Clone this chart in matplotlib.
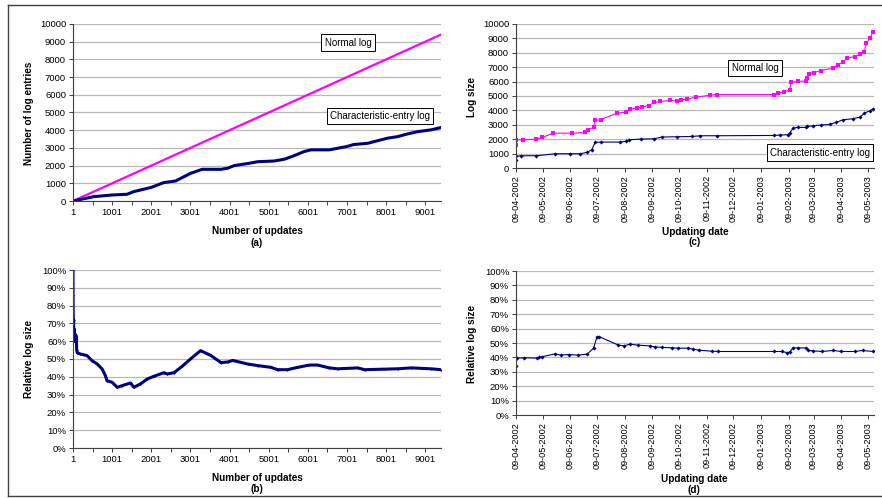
import datetime as dt
import matplotlib
matplotlib.use("Agg")
import matplotlib.pyplot as plt
import matplotlib.dates as mdates
from matplotlib.ticker import FixedLocator, FuncFormatter
from matplotlib.lines import Line2D

plt.rcParams['font.family'] = ['Liberation Sans', 'DejaVu Sans']

# (a) numero de entradas do log vs numero de updates
upd_a = [1, 530, 1001, 1380, 1555, 2001, 2320, 2620, 3001, 3300, 3780, 3950,
         4120, 4500, 4720, 5140, 5400, 5650, 5900, 6080, 6550, 7001, 7170,
         7530, 7790, 8040, 8300, 8510, 8810, 9150, 9400]
char_a = [0, 245, 340, 380, 530, 770, 1040, 1130, 1560, 1790, 1790, 1850,
          2000, 2130, 2220, 2260, 2360, 2560, 2790, 2890, 2890, 3080, 3190,
          3260, 3410, 3550, 3640, 3770, 3920, 4020, 4150]
normal_a_x = [1, 9400]
normal_a_y = [0, 9400]

# (b) tamanho relativo (%)
upd_b = [1, 3, 6, 10, 15, 20, 30, 40, 55, 70, 85, 95, 110, 190, 360, 490, 620,
         745, 830, 870, 1001, 1130, 1250, 1470, 1555, 1725, 1900, 2070, 2320,
         2410, 2580, 2790, 3001, 3260, 3520, 3780, 3950, 4080, 4460, 4720,
         5060, 5230, 5480, 5740, 6040, 6250, 6550, 6760, 7280, 7450, 7960,
         8300, 8640, 9150, 9400]
rel_b = [100, 86, 75, 60, 72, 63, 67, 60, 64, 61, 63, 55, 53.5, 52.8, 51.9, 49,
         47.2, 44.4, 40.6, 37.8, 36.9, 34.1, 35, 36.5, 34.1, 36, 38.8, 40.3,
         42.3, 41.6, 42.3, 45.9, 50, 54.7, 52, 48, 48.3, 49.2, 47.2, 46.3,
         45.3, 44, 44, 45.3, 46.6, 46.6, 45, 44.5, 45, 44, 44.3, 44.5, 45,
         44.5, 44]

# (c) tamanho do log por data (dias desde 09-04-2002)
start = dt.datetime(2002, 4, 9)
days_cn = [0, 0.3, 8, 23, 29, 42, 63, 78, 81, 87, 89, 95, 113, 123, 128, 136,
           141, 149, 155, 162, 173, 181, 185, 192, 202, 218, 226, 290, 294,
           301, 307, 309, 316, 326, 327, 329, 335, 342, 356, 361, 367, 371,
           380, 386, 391, 393, 397, 401]
normal_c = [1570, 1960, 1960, 2000, 2120, 2420, 2420, 2470, 2650, 2820, 3300,
            3350, 3810, 3880, 4110, 4160, 4230, 4340, 4550, 4620, 4690, 4670,
            4730, 4780, 4920, 5060, 5100, 5100, 5200, 5270, 5430, 5940, 6030,
            6030, 6280, 6560, 6630, 6770, 6930, 7160, 7340, 7620, 7740, 7900,
            8080, 8660, 9010, 9470]
days_cc = [0, 0.5, 6, 23, 44, 61, 72, 80, 85, 89, 95, 117, 123, 127, 140, 155,
           164, 181, 198, 207, 226, 290, 296, 305, 307, 311, 316, 326, 327,
           333, 342, 352, 359, 367, 378, 386, 391, 397, 401]
char_c = [580, 810, 850, 850, 990, 990, 990, 1090, 1270, 1780, 1800, 1800,
          1850, 1960, 2010, 2030, 2150, 2170, 2190, 2240, 2240, 2260, 2290,
          2310, 2420, 2770, 2820, 2820, 2890, 2930, 2980, 3030, 3160, 3350,
          3420, 3530, 3810, 3970, 4110]

# (d) tamanho relativo por data
days_d = [0, 1, 9, 24, 26, 29, 44, 50, 59, 70, 80, 87, 91, 93, 115, 121, 128,
          137, 150, 156, 164, 175, 182, 193, 199, 205, 220, 227, 290, 298,
          304, 307, 311, 317, 326, 328, 333, 343, 356, 365, 380, 389, 401]
rel_d = [34.2, 39.5, 39.7, 39.5, 40, 40.4, 42.5, 41.6, 42, 41.6, 42.3, 46.4,
         54.5, 54.5, 48.5, 48, 49.2, 48.5, 48, 47.3, 46.9, 46.7, 46.4, 46.4,
         45.7, 45, 44.3, 44.1, 44.1, 44.1, 43.4, 43.6, 46.6, 46.6, 46.6,
         44.8, 44.6, 44.1, 44.8, 44.1, 44.1, 44.8, 44.1]

months = [dt.datetime(2002 + (3 + i) // 12, (3 + i) % 12 + 1, 9) for i in range(14)]

NAVY = '#000080'
MAG = '#ff00ff'
GRID = '#b8b8b8'
AX = '#404040'
W, H = 882, 498

fig = plt.figure(figsize=(W / 100, H / 100), dpi=100)


def box(l, t, r, b):
    return [l / W, 1 - b / H, (r - l) / W, (b - t) / H]


def estilo(ax):
    for s in ['top', 'right']:
        ax.spines[s].set_visible(False)
    for s in ['left', 'bottom']:
        ax.spines[s].set_color(AX)
        ax.spines[s].set_linewidth(0.8)
    ax.yaxis.grid(True, color=GRID, linewidth=0.9)
    ax.set_axisbelow(True)
    ax.tick_params(axis='both', which='both', direction='out', length=3,
                   width=0.7, color=AX, labelsize=6.8, pad=2)


def eixo_updates(ax):
    ax.set_xlim(1, 9402)
    ax.xaxis.set_major_locator(FixedLocator(list(range(1, 9402, 1000))))
    ax.xaxis.set_minor_locator(FixedLocator(list(range(501, 9402, 1000))))


def eixo_datas(ax):
    ax.set_xlim(mdates.date2num(start), mdates.date2num(start) + 401.8)
    ax.xaxis.set_major_locator(FixedLocator(mdates.date2num(months)))
    ax.xaxis.set_major_formatter(mdates.DateFormatter('%d-%m-%Y'))
    for lab in ax.get_xticklabels():
        lab.set_rotation(90)
        lab.set_family(['Liberation Sans Narrow', 'Liberation Sans'])
        lab.set_fontsize(6.6)


def legenda(ax, x, y, txt):
    ax.text(x, y, txt, transform=ax.transAxes, fontsize=7, ha='center',
            va='center', bbox=dict(boxstyle='square,pad=0.35', fc='white',
                                   ec='black', lw=0.7))


def data(d):
    return [start + dt.timedelta(days=v) for v in d]


# (a)
axa = fig.add_axes(box(73, 24, 441, 201))
estilo(axa)
axa.plot(normal_a_x, normal_a_y, color=MAG, lw=1.6)
axa.plot(upd_a, char_a, color=NAVY, lw=2.2)
eixo_updates(axa)
axa.set_ylim(0, 10000)
axa.set_yticks(range(0, 10001, 1000))
legenda(axa, (348 - 73) / 368, 1 - (42.5 - 24) / 177, 'Normal log')
legenda(axa, (380 - 73) / 368, 1 - (116 - 24) / 177, 'Characteristic-entry log')

# (b)
axb = fig.add_axes(box(73, 270, 441, 448))
estilo(axb)
axb.plot(upd_b, rel_b, color=NAVY, lw=2.2, marker='+', ms=2, mew=0.8)
eixo_updates(axb)
axb.set_ylim(0, 100)
axb.set_yticks(range(0, 101, 10))
axb.yaxis.set_major_formatter(FuncFormatter(lambda v, p: f'{v:.0f}%'))

# (c)
axc = fig.add_axes(box(516, 24, 874, 168))
estilo(axc)
axc.plot(data(days_cn), normal_c, color=MAG, lw=0.8, marker='s', ms=2.5, mew=0)
axc.plot(data(days_cc), char_c, color=NAVY, lw=0.8, marker='D', ms=2.1, mew=0)
axc.set_ylim(0, 10000)
axc.set_yticks(range(0, 10001, 1000))
eixo_datas(axc)
legenda(axc, (755 - 516) / 358, 1 - (68 - 24) / 144, 'Normal log')
legenda(axc, (820 - 516) / 358, 1 - (152.5 - 24) / 144, 'Characteristic-entry log')

# (d)
axd = fig.add_axes(box(516, 271, 874, 415))
estilo(axd)
axd.plot(data(days_d), rel_d, color=NAVY, lw=0.8, marker='D', ms=2.1, mew=0)
axd.set_ylim(0, 100)
axd.set_yticks(range(0, 101, 10))
axd.yaxis.set_major_formatter(FuncFormatter(lambda v, p: f'{v:.0f}%'))
eixo_datas(axd)

# rotulos dos eixos
def rot(x, y, txt, rotation=0):
    fig.text(x / W, 1 - y / H, txt, fontsize=7.2, fontweight='bold',
             ha='center', va='center', rotation=rotation)

rot(29, 113, 'Number of log entries', 90)
rot(257, 231, 'Number of updates')
rot(257, 243, '(a)')
rot(472, 97, 'Log size', 90)
rot(695, 232, 'Updating date')
rot(695, 242, '(c)')
rot(29, 359, 'Relative log size', 90)
rot(257, 478, 'Number of updates')
rot(257, 489, '(b)')
rot(472, 344, 'Relative log size', 90)
rot(694, 479, 'Updating date')
rot(694, 490, '(d)')

# moldura
for xs, ys in [([8, W], [5, 5]), ([8, 8], [5, 496]), ([8, W], [496, 496])]:
    fig.add_artist(Line2D([x / W for x in xs], [1 - y / H for y in ys],
                          color=AX, lw=1.0))

fig.savefig('out.png', dpi=100)
